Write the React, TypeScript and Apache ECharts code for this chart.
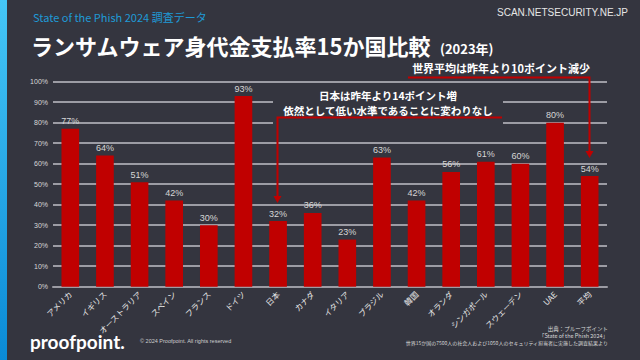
import React, { useEffect, useRef } from "react";
import * as echarts from "echarts";

const categories = ["アメリカ", "イギリス", "オーストラリア", "スペイン", "フランス", "ドイツ", "日本", "カナダ", "イタリア", "ブラジル", "韓国", "オランダ", "シンガポール", "スウェーデン", "UAE", "平均"];
const paymentRates = [77, 64, 51, 42, 30, 93, 32, 36, 23, 63, 42, 56, 61, 60, 80, 54];
const yMin = 0;
const yMax = 100;
const yInterval = 10;

const subtitleText = "State of the Phish 2024 調査データ";
const titleText = "ランサムウェア身代金支払率15か国比較";
const titleYear = "(2023年)";
const watermarkText = "SCAN.NETSECURITY.NE.JP";
const avgNote = "世界平均は昨年より10ポイント減少";
const japanNoteLines = ["日本は昨年より14ポイント増", "依然として低い水準であることに変わりなし"];
const sourceLines = ["出典：プルーフポイント", "「State of the Phish 2024」", "世界15か国の7500人の社会人および1050人のセキュリティ担当者に実施した調査結果より"];
const copyrightText = "© 2024 Proofpoint. All rights reserved";
const logoText = "proofpoint.";

const BG = "#34353f";
const RED = "#c00000";
const JP = "Noto Sans CJK JP";

export default function App() {
  const ref = useRef<HTMLDivElement>(null);
  useEffect(() => {
    if (!ref.current) return;
    const chart = echarts.init(ref.current, null, { renderer: "svg" });
    chart.setOption({
      animation: false,
      backgroundColor: BG,
      grid: { left: 53, right: 33, top: 81.7, bottom: 73.3, containLabel: false },
      xAxis: {
        type: "category",
        data: categories,
        axisLine: { show: true, lineStyle: { color: "#9c9ca4", width: 2 } },
        axisTick: { show: false },
        axisLabel: { interval: 0, rotate: 45, margin: 6, color: "#e8e8e8", fontSize: 8, fontFamily: JP },
      },
      yAxis: {
        type: "value",
        min: yMin,
        max: yMax,
        interval: yInterval,
        axisLine: { show: false },
        axisTick: { show: false },
        axisLabel: { formatter: "{value}%", color: "#d8d8d8", fontSize: 7, margin: 5, fontFamily: "Liberation Sans" },
        splitLine: { lineStyle: { color: "#9c9ca4", width: 2 } },
      },
      series: [
        {
          type: "bar",
          data: paymentRates,
          barWidth: "51%",
          itemStyle: { color: RED },
          label: { show: true, position: "top", distance: 3, formatter: "{c}%", color: "#d6d6d6", fontSize: 9, fontFamily: "Liberation Sans" },
        },
      ],
    });

    const jpIdx = categories.indexOf("日本");
    const avgIdx = categories.indexOf("平均");
    const jpPt = chart.convertToPixel({ xAxisIndex: 0, yAxisIndex: 0 }, [jpIdx, paymentRates[jpIdx]]) as number[];
    const avgPt = chart.convertToPixel({ xAxisIndex: 0, yAxisIndex: 0 }, [avgIdx, paymentRates[avgIdx]]) as number[];
    const jx = Math.round(jpPt[0]) - 0.5;
    const ax = Math.round(avgPt[0]) - 0.5;
    const jTip = jpPt[1] - 18;
    const aTip = avgPt[1] - 18;

    const lineStyle = { stroke: RED, lineWidth: 2, fill: null };
    chart.setOption({
      graphic: [
        {
          type: "rect", z: 100, shape: { x: 0, y: 0, width: 7, height: 360 },
          style: { fill: new echarts.graphic.LinearGradient(0, 0, 0, 1, [{ offset: 0, color: "#45c6f6" }, { offset: 1, color: "#0a8ad6" }]) },
        },
        { type: "text", z: 100, x: 33, y: 17, style: { text: subtitleText, fill: "#1f9ad6", fontSize: 11, fontFamily: JP, verticalAlign: "middle" } },
        { type: "text", z: 100, x: 31, y: 45, style: { text: titleText, fill: "#ffffff", fontSize: 22, fontWeight: "bold", fontFamily: JP, verticalAlign: "middle" } },
        { type: "text", z: 100, x: 440, y: 48, style: { text: titleYear, fill: "#ffffff", fontSize: 13, fontWeight: "bold", fontFamily: JP, verticalAlign: "middle" } },
        { type: "text", z: 100, x: 628, y: 12, style: { text: watermarkText, fill: "#e6e6e6", fontSize: 10, fontFamily: "Liberation Sans", align: "right", verticalAlign: "middle" } },
        { type: "rect", z: 50, shape: { x: 273, y: 86, width: 230, height: 38 }, style: { fill: BG } },
        { type: "text", z: 100, x: 501, y: 68, style: { text: avgNote, fill: "#ffffff", fontSize: 11, fontWeight: "bold", fontFamily: JP, align: "center", verticalAlign: "middle" } },
        { type: "text", z: 100, x: 388, y: 95.5, style: { text: japanNoteLines[0], fill: "#ffffff", fontSize: 10.5, fontWeight: "bold", fontFamily: JP, align: "center", verticalAlign: "middle" } },
        { type: "text", z: 100, x: 388, y: 110.5, style: { text: japanNoteLines[1], fill: "#ffffff", fontSize: 10.5, fontWeight: "bold", fontFamily: JP, align: "center", verticalAlign: "middle" } },
        { type: "polyline", z: 100, shape: { points: [[408, 77.5], [ax, 77.5], [ax, aTip - 6]] }, style: lineStyle },
        { type: "polygon", z: 100, shape: { points: [[ax - 4, aTip - 7], [ax + 4, aTip - 7], [ax, aTip]] }, style: { fill: RED } },
        { type: "polyline", z: 100, shape: { points: [[502, 117.5], [jx, 117.5], [jx, jTip - 6]] }, style: lineStyle },
        { type: "polygon", z: 100, shape: { points: [[jx - 4, jTip - 7], [jx + 4, jTip - 7], [jx, jTip]] }, style: { fill: RED } },
        { type: "text", z: 100, x: 30, y: 341, style: { text: logoText, fill: "#ffffff", fontSize: 19, fontWeight: "bold", fontFamily: "Lato", verticalAlign: "middle" } },
        { type: "text", z: 100, x: 140, y: 341, style: { text: copyrightText, fill: "#cfcfcf", fontSize: 5.5, fontFamily: "Liberation Sans", verticalAlign: "middle" } },
        { type: "text", z: 100, x: 608, y: 329, style: { text: sourceLines[0], fill: "#d8d8d8", fontSize: 5.5, fontFamily: JP, align: "right", verticalAlign: "middle" } },
        { type: "text", z: 100, x: 608, y: 335.5, style: { text: sourceLines[1], fill: "#d8d8d8", fontSize: 5.5, fontFamily: JP, align: "right", verticalAlign: "middle" } },
        { type: "text", z: 100, x: 608, y: 342, style: { text: sourceLines[2], fill: "#d8d8d8", fontSize: 5, fontFamily: JP, align: "right", verticalAlign: "middle" } },
      ],
    });
    return () => chart.dispose();
  }, []);
  return <div ref={ref} style={{ position: "fixed", left: 0, top: 0, width: 640, height: 360 }} />;
}
